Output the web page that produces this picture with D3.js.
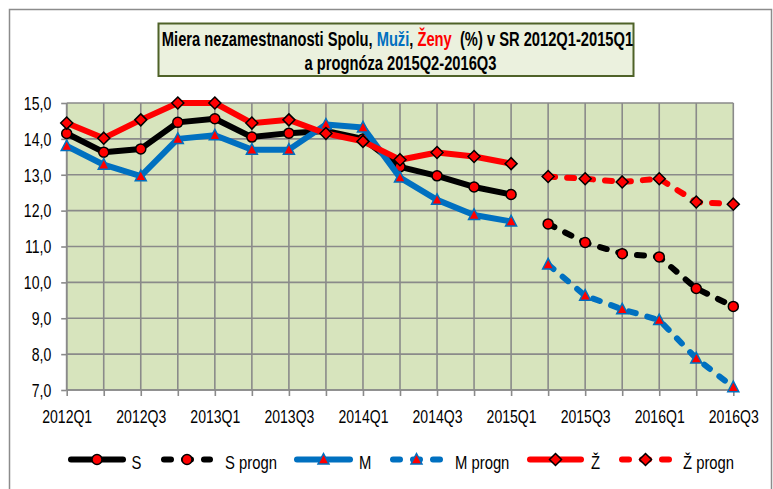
<!DOCTYPE html>
<html>
<head>
<meta charset="utf-8">
<script src="https://cdn.jsdelivr.net/npm/d3@7"></script>
<style>
  html, body { margin: 0; padding: 0; background: #ffffff; }
  svg { display: block; }
  text { font-family: "Liberation Sans", Arial, sans-serif; }
</style>
</head>
<body>
<svg id="chart" width="773" height="489"></svg>
<script>
// ---- data ----
const categories = ["2012Q1","2012Q2","2012Q3","2012Q4","2013Q1","2013Q2","2013Q3","2013Q4",
  "2014Q1","2014Q2","2014Q3","2014Q4","2015Q1","2015Q2","2015Q3","2015Q4","2016Q1","2016Q2","2016Q3"];
const actualCats = categories.slice(0, 13);
const forecastCats = categories.slice(13);
const tickLabels = ["2012Q1","2012Q3","2013Q1","2013Q3","2014Q1","2014Q3","2015Q1","2015Q3","2016Q1","2016Q3"];
const yTickValues = [7, 8, 9, 10, 11, 12, 13, 14, 15];

const sActual = [14.15, 13.63, 13.72, 14.46, 14.56, 14.05, 14.16, 14.22, 14.0, 13.22, 12.97, 12.66, 12.45];
const sForecast = [11.63, 11.11, 10.8, 10.71, 9.83, 9.33];
const mActual = [13.8, 13.28, 12.96, 14.0, 14.1, 13.7, 13.7, 14.4, 14.32, 12.92, 12.3, 11.88, 11.7];
const mForecast = [10.5, 9.63, 9.25, 8.95, 7.88, 7.08];
const zActual = [14.44, 14.02, 14.53, 15.0, 15.0, 14.44, 14.53, 14.15, 13.93, 13.42, 13.62, 13.51, 13.31];
const zForecast = [12.95, 12.89, 12.8, 12.89, 12.24, 12.18];

const seriesNames = ["S", "S progn", "M", "M progn", "Ž", "Ž progn"];

// ---- layout ----
const svg = d3.select("#chart");
const plot = { left: 66.7, right: 733.3, top: 103, bottom: 390 };
const x = d3.scalePoint().domain(categories).range([plot.left, plot.right]);
const y = d3.scaleLinear().domain([7, 15]).range([plot.bottom, plot.top]);

const gridColor = "#8a8a8a";
const black = "#000000", blue = "#0070c0", red = "#ff0000";

// emulate a narrow face by compressing the glyphs horizontally
function narrow(sel, factor) {
  sel.each(function () {
    const w = this.getComputedTextLength();
    if (w > 0) {
      d3.select(this).attr("textLength", w * factor).attr("lengthAdjust", "spacingAndGlyphs");
    }
  });
}

// outer chart border
svg.append("rect").attr("x", 9.5).attr("y", 9.5).attr("width", 762).attr("height", 490)
  .attr("fill", "#ffffff").attr("stroke", "#8c8c8c").attr("stroke-width", 1.5);

// plot area
svg.append("rect").attr("x", plot.left).attr("y", plot.top)
  .attr("width", plot.right - plot.left).attr("height", plot.bottom - plot.top)
  .attr("fill", "#d7e4bd");

// gridlines
const grid = svg.append("g");
grid.selectAll("line.v").data(categories).join("line")
  .attr("x1", d => x(d)).attr("x2", d => x(d))
  .attr("y1", plot.top).attr("y2", plot.bottom)
  .attr("stroke", gridColor).attr("stroke-width", 1.6);
grid.selectAll("line.h").data(yTickValues).join("line")
  .attr("x1", plot.left).attr("x2", plot.right)
  .attr("y1", d => y(d)).attr("y2", d => y(d))
  .attr("stroke", gridColor).attr("stroke-width", 1.6);

// axes
const fmt = d => d3.format(".1f")(d).replace(".", ",");
const yAxis = svg.append("g").attr("transform", `translate(${plot.left},0)`)
  .call(d3.axisLeft(y).tickValues(yTickValues).tickFormat(fmt).tickSize(5.5).tickPadding(10));
yAxis.attr("font-family", null).attr("font-size", null);
yAxis.selectAll("text").attr("font-size", 18).attr("fill", "#000").attr("dy", "0.35em")
  .call(narrow, 0.78);

const xAxis = svg.append("g").attr("transform", `translate(0,${plot.bottom})`)
  .call(d3.axisBottom(x).tickValues(categories)
    .tickFormat(d => tickLabels.includes(d) ? d : "").tickSize(6).tickPadding(14));
xAxis.attr("font-family", null).attr("font-size", null);
xAxis.selectAll("text").attr("font-size", 18).attr("fill", "#000").call(narrow, 0.78);
svg.selectAll(".domain").attr("stroke", gridColor).attr("stroke-width", 1.6);
svg.selectAll(".tick line").attr("stroke", gridColor).attr("stroke-width", 1.6);
xAxis.select(".domain").attr("d", `M${plot.left},0H${plot.right}`);
yAxis.select(".domain").attr("d", `M0,${plot.bottom}V${plot.top}`);

// marker shapes
function drawMarker(g, type, cx, cy) {
  if (type === "circle") {
    g.append("circle").attr("cx", cx).attr("cy", cy).attr("r", 5)
      .attr("fill", red).attr("stroke", black).attr("stroke-width", 1.5);
  } else if (type === "triangle") {
    g.append("path").attr("d", `M${cx},${cy - 6}L${cx + 5.5},${cy + 4.5}L${cx - 5.5},${cy + 4.5}Z`)
      .attr("fill", red).attr("stroke", blue).attr("stroke-width", 1.5).attr("stroke-linejoin", "miter");
  } else {
    g.append("path").attr("d", `M${cx},${cy - 6}L${cx + 6},${cy}L${cx},${cy + 6}L${cx - 6},${cy}Z`)
      .attr("fill", red).attr("stroke", black).attr("stroke-width", 1.5);
  }
}

const series = [
  { name: seriesNames[0], cats: actualCats, values: sActual, color: black, dashed: false, marker: "circle" },
  { name: seriesNames[1], cats: forecastCats, values: sForecast, color: black, dashed: true, marker: "circle" },
  { name: seriesNames[2], cats: actualCats, values: mActual, color: blue, dashed: false, marker: "triangle" },
  { name: seriesNames[3], cats: forecastCats, values: mForecast, color: blue, dashed: true, marker: "triangle" },
  { name: seriesNames[4], cats: actualCats, values: zActual, color: red, dashed: false, marker: "diamond" },
  { name: seriesNames[5], cats: forecastCats, values: zForecast, color: red, dashed: true, marker: "diamond" }
];

const line = d3.line().x(d => x(d.c)).y(d => y(d.v));
const dashPattern = "7,12";

series.forEach(s => {
  const pts = s.cats.map((c, i) => ({ c, v: s.values[i] }));
  const g = svg.append("g");
  g.append("path").datum(pts).attr("d", line)
    .attr("fill", "none").attr("stroke", s.color).attr("stroke-width", 6)
    .attr("stroke-linejoin", "round").attr("stroke-linecap", "round")
    .attr("stroke-dasharray", s.dashed ? dashPattern : null);
  pts.forEach(p => drawMarker(g, s.marker, x(p.c), y(p.v)));
});

// title box
svg.append("rect").attr("x", 158.5).attr("y", 23.5).attr("width", 475).attr("height", 52.5)
  .attr("fill", "#ebf1de").attr("stroke", "#4f6228").attr("stroke-width", 2);
const TITLE_SCALE = 0.735;
const t1 = svg.append("text").attr("transform", `translate(397.5,46) scale(${TITLE_SCALE},1)`)
  .attr("text-anchor", "middle")
  .attr("font-size", 20).attr("font-weight", "bold").style("white-space", "pre");
t1.append("tspan").text("Miera nezamestnanosti Spolu, ");
t1.append("tspan").attr("fill", blue).text("Muži");
t1.append("tspan").text(", ");
t1.append("tspan").attr("fill", red).text("Ženy");
t1.append("tspan").text("  (%) v SR 2012Q1-2015Q1");
svg.append("text").attr("transform", `translate(400.5,70) scale(${TITLE_SCALE},1)`)
  .attr("text-anchor", "middle")
  .attr("font-size", 20).attr("font-weight", "bold").text("a prognóza 2015Q2-2016Q3");

// legend
const legendItems = [
  { s: series[0], x1: 68, x2: 126, text: 131.5 },
  { s: series[1], x1: 161, x2: 213, text: 225 },
  { s: series[2], x1: 294, x2: 353, text: 359 },
  { s: series[3], x1: 390, x2: 443, text: 455 },
  { s: series[4], x1: 527, x2: 584, text: 591 },
  { s: series[5], x1: 619, x2: 672, text: 683 }
];
const ly = 459.5;
legendItems.forEach(item => {
  const g = svg.append("g");
  g.append("line").attr("x1", item.x1 + 3).attr("x2", item.x2 - 3).attr("y1", ly).attr("y2", ly)
    .attr("stroke", item.s.color).attr("stroke-width", 6).attr("stroke-linecap", "round")
    .attr("stroke-dasharray", item.s.dashed ? "7,13" : null);
  drawMarker(g, item.s.marker, (item.x1 + item.x2) / 2, ly);
  g.append("text").attr("x", item.text).attr("y", ly + 9).attr("font-size", 19)
    .attr("fill", "#000").text(item.s.name).call(narrow, 0.78);
});
</script>
</body>
</html>
